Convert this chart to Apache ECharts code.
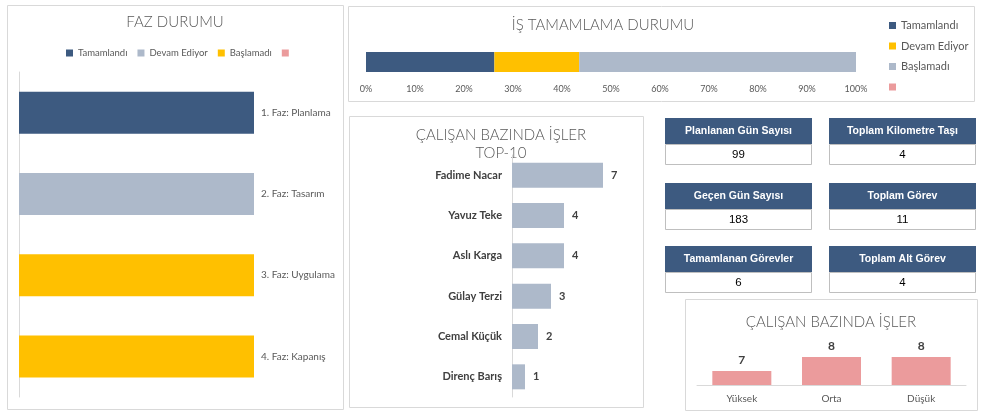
<!DOCTYPE html>
<html>
<head>
<meta charset="utf-8">
<script src="https://cdn.jsdelivr.net/npm/echarts@6/dist/echarts.min.js"></script>
<style>
html,body{margin:0;padding:0;background:#fff;}
#c{width:985px;height:416px;}
</style>
</head>
<body>
<div id="c"></div>
<script>
// ---- data ----
const phases = ['1. Faz: Planlama', '2. Faz: Tasarım', '3. Faz: Uygulama', '4. Faz: Kapanış'];
const fazTamamlandi = [1, 0, 0, 0];
const fazDevam = [0, 1, 0, 0];
const fazBaslamadi = [0, 0, 1, 1];

const isCategory = [''];
const isTamamlandi = [26.2];
const isDevam = [17.3];
const isBaslamadi = [56.5];

const employees = ['Fadime Nacar', 'Yavuz Teke', 'Aslı Karga', 'Gülay Terzi', 'Cemal Küçük', 'Direnç Barış'];
const employeeTasks = [7, 4, 4, 3, 2, 1];

const priorities = ['Yüksek', 'Orta', 'Düşük'];
const priorityTasks = [7, 8, 8];

const kpiLabels = ['Planlanan Gün Sayısı', 'Toplam Kilometre Taşı', 'Geçen Gün Sayısı', 'Toplam Görev', 'Tamamlanan Görevler', 'Toplam Alt Görev'];
const kpiValues = ['99', '4', '183', '11', '6', '4'];

// ---- style ----
const DARK = '#3D5A80', GRAY = '#ADB9CA', YELLOW = '#FFC000', PINK = '#EB9B9C';
const BORDER = '#D9D9D9';
const FONT = 'Lato, "DejaVu Sans", sans-serif';
const TXT = '#595959';

function txt(x, y, s, font, fill) {
  return { type: 'text', x: x, y: y, silent: true,
    style: { text: s, font: font, fill: fill, align: 'center', verticalAlign: 'middle', textAlign: 'center', textVerticalAlign: 'middle' } };
}
function box(x, y, w, h, fill, stroke) {
  return { type: 'rect', silent: true, shape: { x: x, y: y, width: w, height: h },
    style: { fill: fill || 'none', stroke: stroke || BORDER, lineWidth: 1 } };
}

const TITLE_FONT = '300 15px ' + FONT;
const graphics = [
  box(7.5, 5.5, 336, 404),
  box(348.5, 6.5, 626, 95),
  box(349.5, 116.5, 294, 291),
  box(685.5, 299.5, 292, 111),
  txt(175, 22, 'FAZ DURUMU', TITLE_FONT, TXT),
  txt(603, 25, 'İŞ TAMAMLAMA DURUMU', TITLE_FONT, TXT),
  txt(501, 135, 'ÇALIŞAN BAZINDA İŞLER', TITLE_FONT, TXT),
  txt(501, 153, 'TOP-10', TITLE_FONT, TXT),
  txt(831, 322, 'ÇALIŞAN BAZINDA İŞLER', TITLE_FONT, TXT)
];
const cardX = [665, 829], rowY = [118, 183, 246];
for (let i = 0; i < kpiLabels.length; i++) {
  const x = cardX[i % 2], y = rowY[Math.floor(i / 2)];
  graphics.push({ type: 'rect', silent: true, shape: { x: x, y: y, width: 147, height: 26 }, style: { fill: DARK } });
  graphics.push(box(x + 0.5, y + 26.5, 146, 20, '#fff', '#BFBFBF'));
  graphics.push(txt(x + 73.5, y + 13.5, kpiLabels[i], 'bold 10.5px "Liberation Sans", Arial, sans-serif', '#fff'));
  graphics.push(txt(x + 73.5, y + 37, kpiValues[i], '11.5px "Liberation Sans", Arial, sans-serif', '#000'));
}

const chart = echarts.init(document.getElementById('c'));
chart.setOption({
  animation: false,
  textStyle: { fontFamily: FONT },
  graphic: graphics,
  legend: [
    { left: 61, top: 43, icon: 'rect', itemWidth: 7, itemHeight: 7, itemGap: 10, itemStyle: {},
      textStyle: { fontSize: 9.5, color: TXT, fontFamily: FONT }, selectedMode: false,
      data: [ { name: 'Tamamlandı', itemStyle: { color: DARK } }, { name: 'Devam Ediyor', itemStyle: { color: GRAY } },
              { name: 'Başlamadı', itemStyle: { color: YELLOW } }, { name: ' ', itemStyle: { color: PINK } } ] },
    { left: 884, top: 15, orient: 'vertical', icon: 'rect', itemWidth: 7, itemHeight: 7, itemGap: 9.5,
      textStyle: { fontSize: 11, color: TXT, fontFamily: FONT }, selectedMode: false,
      data: [ { name: 'Tamamlandı', itemStyle: { color: DARK } }, { name: 'Devam Ediyor', itemStyle: { color: YELLOW } },
              { name: 'Başlamadı', itemStyle: { color: GRAY } }, { name: ' ', itemStyle: { color: PINK } } ] }
  ],
  grid: [
    { left: 19, top: 72, width: 235, height: 325 },
    { left: 366, top: 52, width: 490, height: 20 },
    { left: 512, top: 155, width: 130, height: 242 },
    { left: 697, top: 343, width: 269, height: 42 }
  ],
  xAxis: [
    { gridIndex: 0, type: 'value', min: 0, max: 1, show: false },
    { gridIndex: 1, type: 'value', min: 0, max: 100, interval: 10,
      axisLine: { show: false }, axisTick: { show: false }, splitLine: { show: false },
      axisLabel: { formatter: '{value}%', fontSize: 9, color: TXT, margin: 13 } },
    { gridIndex: 2, type: 'value', min: 0, max: 10, show: false },
    { gridIndex: 3, type: 'category', data: priorities,
      axisLine: { lineStyle: { color: BORDER } }, axisTick: { show: false },
      axisLabel: { fontSize: 10, color: TXT, margin: 9 } }
  ],
  yAxis: [
    { gridIndex: 0, type: 'category', data: phases, inverse: true,
      axisLine: { show: true, lineStyle: { color: BORDER } }, axisTick: { show: false }, axisLabel: { show: false } },
    { gridIndex: 0, type: 'category', data: phases, inverse: true, position: 'right',
      axisLine: { show: false }, axisTick: { show: false },
      axisLabel: { fontSize: 10, color: TXT, margin: 7, align: 'left' } },
    { gridIndex: 1, type: 'category', data: isCategory, show: false },
    { gridIndex: 2, type: 'category', data: employees, inverse: true,
      axisLine: { show: true, lineStyle: { color: BORDER } }, axisTick: { show: false },
      axisLabel: { fontSize: 11, fontWeight: 'bold', color: '#404040', margin: 10 } },
    { gridIndex: 3, type: 'value', min: 6, max: 9, show: false }
  ],
  series: [
    { name: 'Tamamlandı', type: 'bar', xAxisIndex: 0, yAxisIndex: 0, stack: 'faz', barWidth: 42, data: fazTamamlandi, itemStyle: { color: DARK } },
    { name: 'Devam Ediyor', type: 'bar', xAxisIndex: 0, yAxisIndex: 0, stack: 'faz', barWidth: 42, data: fazDevam, itemStyle: { color: GRAY } },
    { name: 'Başlamadı', type: 'bar', xAxisIndex: 0, yAxisIndex: 0, stack: 'faz', barWidth: 42, data: fazBaslamadi, itemStyle: { color: YELLOW } },
    { name: ' ', type: 'bar', xAxisIndex: 0, yAxisIndex: 0, stack: 'faz', barWidth: 42, data: [], itemStyle: { color: PINK } },

    { name: 'Tamamlandı', type: 'bar', xAxisIndex: 1, yAxisIndex: 2, stack: 'is', barWidth: 20, data: isTamamlandi, itemStyle: { color: DARK } },
    { name: 'Devam Ediyor', type: 'bar', xAxisIndex: 1, yAxisIndex: 2, stack: 'is', barWidth: 20, data: isDevam, itemStyle: { color: YELLOW } },
    { name: 'Başlamadı', type: 'bar', xAxisIndex: 1, yAxisIndex: 2, stack: 'is', barWidth: 20, data: isBaslamadi, itemStyle: { color: GRAY } },

    { name: 'Görevler', type: 'bar', xAxisIndex: 2, yAxisIndex: 3, barWidth: 25, data: employeeTasks, itemStyle: { color: GRAY },
      label: { show: true, position: 'right', distance: 8, fontSize: 11, fontWeight: 'bold', color: '#404040' } },

    { name: 'Öncelik', type: 'bar', xAxisIndex: 3, yAxisIndex: 4, barWidth: 59, data: priorityTasks, itemStyle: { color: PINK },
      label: { show: true, position: 'top', distance: 5, fontSize: 12, fontWeight: 'bold', color: '#404040' } }
  ]
});
</script>
</body>
</html>
